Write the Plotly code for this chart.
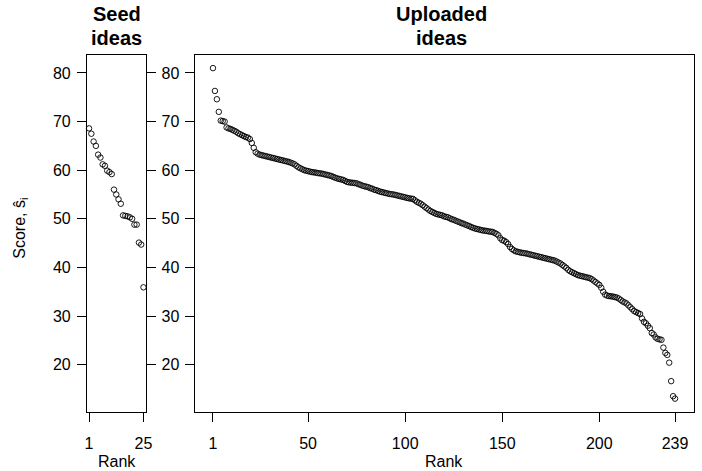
import plotly.graph_objects as go

# ---- data ----
seed_rank = list(range(1, 26))
seed_score = [68.6, 67.5, 65.9, 65.0, 63.2, 62.6, 61.2, 60.9, 59.9, 59.6,
              59.2, 56.0, 55.0, 54.0, 53.1, 50.7, 50.6, 50.5, 50.3, 50.0,
              48.8, 48.8, 45.1, 44.7, 35.9]

up_rank = list(range(1, 240))
up_score = [
    81.0, 76.3, 74.6, 72.0, 70.2, 70.1, 70.0, 68.8, 68.6, 68.5,
    68.3, 68.1, 67.9, 67.6, 67.4, 67.2, 67.0, 66.8, 66.7, 66.4,
    65.6, 64.6, 63.7, 63.4, 63.2, 63.1, 63.0, 62.9, 62.8, 62.7,
    62.6, 62.5, 62.4, 62.3, 62.2, 62.1, 62.0, 61.9, 61.8, 61.7,
    61.55, 61.4, 61.2, 60.9, 60.6, 60.4, 60.2, 60.0, 59.9, 59.8,
    59.7, 59.6, 59.55, 59.5, 59.4, 59.35, 59.3, 59.2, 59.1, 59.0,
    58.9, 58.8, 58.6, 58.45, 58.3, 58.2, 58.1, 58.0, 57.8, 57.6,
    57.5, 57.45, 57.4, 57.35, 57.3, 57.1, 57.0, 56.8, 56.7, 56.6,
    56.5, 56.3, 56.2, 56.0, 55.9, 55.75, 55.6, 55.5, 55.4, 55.3,
    55.2, 55.1, 55.05, 55.0, 54.9, 54.8, 54.7, 54.6, 54.5, 54.4,
    54.3, 54.2, 54.15, 54.1, 53.8, 53.5, 53.3, 53.1, 52.8, 52.5,
    52.2, 51.9, 51.6, 51.4, 51.2, 51.0, 50.9, 50.8, 50.7, 50.5,
    50.4, 50.3, 50.1, 49.9, 49.8, 49.6, 49.45, 49.3, 49.1, 49.0,
    48.8, 48.65, 48.5, 48.3, 48.15, 48.0, 47.9, 47.8, 47.7, 47.6,
    47.55, 47.5, 47.4, 47.35, 47.3, 47.1, 46.9, 46.6, 46.0, 45.6,
    45.5, 45.2, 44.8, 44.2, 43.8, 43.5, 43.3, 43.2, 43.1, 43.0,
    42.95, 42.9, 42.8, 42.7, 42.6, 42.5, 42.4, 42.3, 42.2, 42.1,
    42.0, 41.9, 41.8, 41.7, 41.6, 41.5, 41.4, 41.2, 41.0, 40.8,
    40.5, 40.2, 39.9, 39.5, 39.2, 39.0, 38.8, 38.6, 38.4, 38.3,
    38.2, 38.1, 38.0, 37.9, 37.8, 37.6, 37.3, 37.0, 36.7, 36.4,
    35.8, 35.0, 34.4, 34.2, 34.1, 34.05, 34.0, 33.9, 33.8, 33.6,
    33.3, 33.0, 32.8, 32.6, 32.2, 31.8, 31.4, 31.0, 30.8, 30.6,
    30.4, 29.5, 28.8, 28.5, 28.0, 27.5, 26.5, 26.2, 25.6, 25.3,
    25.2, 25.1, 23.5, 22.4, 22.0, 20.4, 16.6, 13.5, 13.0,
]

y_ticks = [20, 30, 40, 50, 60, 70, 80]
seed_xticks = [1, 25]
up_xticks = [1, 50, 100, 150, 200, 239]

W, H = 702, 471
FONT = "Liberation Sans, Arial, Helvetica, sans-serif"

def px_x(p):
    return p / W

def px_y(p):
    return 1 - p / H

marker = dict(symbol="circle-open", size=5.5, color="black",
              line=dict(width=0.9, color="black"))

fig = go.Figure()
fig.add_trace(go.Scatter(x=seed_rank, y=seed_score, mode="markers",
                         marker=marker, xaxis="x", yaxis="y",
                         showlegend=False, cliponaxis=False))
fig.add_trace(go.Scatter(x=up_rank, y=up_score, mode="markers",
                         marker=marker, xaxis="x2", yaxis="y2",
                         showlegend=False, cliponaxis=False))

ydom = [px_y(412), px_y(54.5)]
yr = [10.25, 83.8]

common_axis = dict(showgrid=False, zeroline=False, showline=True,
                   linecolor="black", linewidth=1, ticks="outside",
                   ticklen=9, tickwidth=1, tickcolor="black",
                   tickfont=dict(family=FONT, size=16, color="black"))

fig.update_layout(
    width=W, height=H,
    margin=dict(l=0, r=0, t=0, b=0),
    paper_bgcolor="white", plot_bgcolor="white",
    xaxis=dict(common_axis, domain=[px_x(86), px_x(145.5)], range=[0.04, 25.96],
               tickvals=seed_xticks, mirror=True, anchor="y",
               ticklabelstandoff=8),
    yaxis=dict(common_axis, domain=ydom, range=yr, tickvals=y_ticks,
               mirror="ticks", anchor="x", ticklabelstandoff=3),
    xaxis2=dict(common_axis, domain=[px_x(195), px_x(700.5)], range=[-8.52, 248.52],
                tickvals=up_xticks, mirror=True, anchor="y2",
                ticklabelstandoff=8),
    yaxis2=dict(common_axis, domain=ydom, range=yr, tickvals=y_ticks,
                mirror=True, anchor="x2", ticklabelstandoff=2),
)

anns = []
def ann(text, x, y, size=16, bold=False, angle=0):
    anns.append(dict(text=f"<b>{text}</b>" if bold else text,
                     x=px_x(x), y=px_y(y), xref="paper", yref="paper",
                     showarrow=False, xanchor="center", yanchor="middle",
                     textangle=angle,
                     font=dict(family=FONT, size=size, color="black")))

ann("Seed", 116, 14.5, size=20, bold=True)
ann("ideas", 116, 38, size=20, bold=True)
ann("Uploaded", 445, 14.5, size=20, bold=True)
ann("ideas", 445, 38, size=20, bold=True)
ann("Rank", 116, 461, size=16)
ann("Rank", 448, 461, size=16)
ann("Score, ŝ<sub>i</sub>", 18, 228, size=16, angle=-90)
fig.update_layout(annotations=anns)

fig.write_html(
    "out.html",
    config={"displayModeBar": False},
    post_script="document.body.style.margin='0';document.body.style.overflow='hidden';",
)
